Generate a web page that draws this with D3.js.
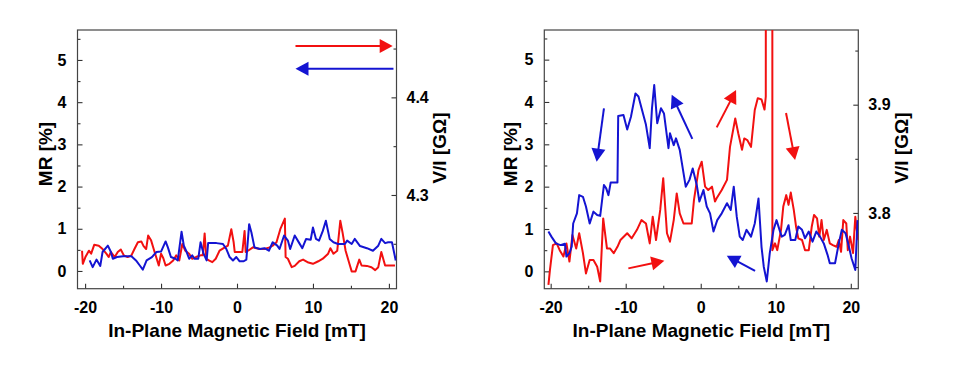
<!DOCTYPE html>
<html><head><meta charset="utf-8">
<script src="https://cdn.jsdelivr.net/npm/d3@7"></script>
<style>
body{margin:0;background:#fff}
svg{display:block}
text{font-family:"Liberation Sans",Arial,sans-serif;font-weight:bold;fill:#000}
</style>
</head><body>
<svg id="c" width="960" height="368"></svg>
<script>
// ---------- data ----------
const xTicks = [-20, -10, 0, 10, 20];
const mrTicks = [0, 1, 2, 3, 4, 5];
const leftVITicks = [4.3, 4.4];
const rightVITicks = [3.8, 3.9];
const xTitle = "In-Plane Magnetic Field [mT]";
const yTitle = "MR [%]";
const y2Title = "V/I [GΩ]";

// left panel: [field mT, MR %]
const leftRed = [[-20.4,0.48],[-20.3,0.17],[-19.96,0.33],[-19.5,0.48],[-19.2,0.41],[-18.8,0.62],[-18.2,0.6],[-17.7,0.52],[-17.2,0.41],[-16.9,0.33],[-16.6,0.45],[-16.1,0.33],[-15.7,0.45],[-15.3,0.51],[-14.9,0.37],[-14.4,0.33],[-13.9,0.37],[-13.5,0.52],[-13.05,0.68],[-12.6,0.7],[-12.3,0.59],[-11.96,0.52],[-11.7,0.84],[-11.3,0.72],[-10.9,0.48],[-10.3,0.13],[-10.0,0.41],[-9.7,0.3],[-9.4,0.13],[-8.9,0.17],[-8.4,0.25],[-8.0,0.37],[-7.6,0.25],[-7.2,0.64],[-6.8,0.48],[-6.3,0.41],[-5.9,0.29],[-5.4,0.33],[-4.8,0.37],[-4.5,0.37],[-4.26,0.89],[-4.04,0.29],[-3.7,0.25],[-3.25,0.21],[-2.8,0.29],[-2.3,0.48],[-1.6,0.56],[-1.2,0.6],[-0.75,0.99],[-0.44,0.68],[-0.3,0.45],[0.13,0.45],[0.7,0.45],[1.0,0.95],[1.14,0.45],[1.45,0.48],[2.1,0.56],[3.0,0.52],[3.6,0.52],[4.3,0.56],[4.7,0.6],[5.2,0.68],[5.7,0.99],[6.3,1.24],[6.4,0.33],[6.7,0.29],[7.2,0.09],[7.6,0.12],[8.2,0.23],[8.7,0.27],[9.4,0.2],[10.0,0.17],[10.7,0.23],[11.3,0.29],[12.0,0.41],[12.3,0.54],[12.7,0.41],[13.2,0.48],[13.6,1.19],[13.9,0.91],[14.3,0.48],[14.8,0.17],[15.1,-0.01],[15.6,-0.01],[16.1,0.27],[16.4,0.13],[17.1,0.12],[17.7,0.09],[18.2,0.02],[18.6,0.09],[19.0,0.45],[19.5,0.13],[20.1,0.13],[20.8,0.13]];
const leftBlue = [[-19.4,0.25],[-19.0,0.09],[-18.5,0.27],[-18.0,0.12],[-17.7,0.45],[-17.0,0.6],[-16.6,0.45],[-16.35,0.29],[-15.8,0.33],[-15.0,0.35],[-13.9,0.35],[-13.3,0.25],[-12.8,0.13],[-12.4,0.03],[-11.9,0.25],[-11.2,0.33],[-10.6,0.45],[-10.0,0.46],[-9.4,0.7],[-9.1,0.56],[-8.7,0.33],[-8.1,0.29],[-7.8,0.25],[-7.3,0.93],[-7.0,0.6],[-6.7,0.48],[-6.3,0.29],[-5.9,0.37],[-5.6,0.29],[-5.1,0.29],[-4.8,0.68],[-4.4,0.41],[-4.0,0.25],[-3.8,0.66],[-2.7,0.66],[-1.85,0.64],[-1.4,0.52],[-0.97,0.33],[-0.53,0.25],[-0.09,0.33],[0.35,0.23],[0.88,0.23],[1.23,0.27],[1.6,1.11],[1.9,0.91],[2.3,0.56],[3.0,0.52],[3.6,0.54],[4.2,0.48],[4.7,0.68],[5.3,0.6],[5.6,0.52],[6.2,0.84],[6.7,0.72],[7.0,0.52],[7.6,0.84],[8.2,0.66],[8.6,0.54],[9.1,0.76],[9.7,0.74],[10.0,1.03],[10.4,0.76],[10.8,0.72],[11.3,0.95],[11.7,1.19],[12.2,0.76],[12.7,0.68],[13.3,0.64],[14.2,0.64],[14.5,0.72],[15.1,0.64],[15.5,0.76],[16.2,0.59],[17.1,0.54],[17.9,0.48],[18.6,0.6],[19.0,0.76],[19.5,0.66],[19.9,0.68],[20.4,0.68],[20.9,0.25]];

// right panel: [field mT, MR %]
const rightRed = [[-20.3,-0.32],[-20.1,0.03],[-19.7,0.62],[-19.2,0.66],[-18.8,0.5],[-18.3,0.35],[-17.9,0.66],[-17.5,0.23],[-17.1,0.86],[-16.6,0.54],[-16.2,0.9],[-15.7,0.43],[-15.3,-0.05],[-14.8,0.27],[-14.3,0.27],[-13.8,0.11],[-13.4,-0.24],[-13.0,1.25],[-12.5,0.54],[-12.1,0.54],[-11.6,0.43],[-11.1,0.58],[-10.7,0.74],[-9.8,0.9],[-9.2,0.78],[-8.5,0.98],[-7.9,1.21],[-7.3,1.13],[-6.8,0.66],[-6.4,1.29],[-5.96,0.74],[-5.4,1.45],[-5.0,2.2],[-4.5,0.9],[-4.1,0.7],[-3.6,1.21],[-3.2,1.84],[-2.8,1.37],[-2.3,1.13],[-1.2,1.13],[-0.9,1.69],[-0.3,2.39],[0.13,2.59],[0.58,2.0],[1.0,1.92],[1.5,2.0],[1.9,1.65],[2.1,1.72],[2.8,1.92],[3.5,2.16],[3.9,2.94],[4.6,3.61],[5.0,3.26],[5.5,2.87],[5.8,3.14],[6.2,3.1],[6.7,2.94],[7.2,3.81],[7.6,4.09],[8.1,4.06],[8.5,3.82],[8.67,4.13],[8.68,9.0],[9.54,9.0],[9.55,0.5],[9.9,0.66],[10.2,0.5],[10.7,0.98],[11.0,1.53],[11.4,1.8],[11.7,1.57],[12.0,1.86],[12.4,1.45],[12.7,1.06],[13.0,0.78],[13.5,0.74],[13.9,0.5],[14.4,0.5],[14.8,1.06],[15.1,1.33],[15.5,1.25],[15.8,0.82],[16.1,1.21],[16.4,0.74],[16.8,0.98],[17.2,0.66],[17.6,0.62],[18.1,0.58],[18.4,0.74],[18.7,0.46],[19.0,1.21],[19.4,1.13],[19.6,0.5],[19.9,0.82],[20.3,0.43],[20.6,1.29],[20.8,0.98],[21.0,0.74]];
const rightBlue = [[-20.3,0.94],[-19.9,0.82],[-19.3,0.66],[-18.7,0.62],[-18.1,0.65],[-17.9,0.35],[-17.5,0.43],[-17.2,0.58],[-17.0,1.13],[-16.5,1.37],[-16.2,1.8],[-15.7,1.76],[-15.3,1.53],[-14.8,1.13],[-14.3,1.41],[-13.8,1.33],[-13.4,1.31],[-12.9,2.04],[-12.6,1.96],[-12.3,1.8],[-12.0,2.1],[-11.1,2.1],[-11.0,3.67],[-10.3,3.69],[-9.8,3.35],[-9.3,3.65],[-8.7,4.2],[-8.3,4.13],[-7.7,3.73],[-7.3,3.46],[-6.8,2.91],[-6.5,3.85],[-6.2,4.4],[-5.8,3.5],[-5.3,3.85],[-4.9,3.73],[-4.3,2.91],[-4.1,3.26],[-3.6,2.98],[-3.3,3.14],[-2.8,2.87],[-2.0,2.0],[-1.5,2.16],[-1.07,2.43],[-0.53,2.04],[-0.18,1.65],[0.36,1.92],[0.8,1.53],[1.24,1.37],[1.7,0.94],[2.2,1.21],[2.8,1.37],[3.5,1.61],[4.0,1.45],[4.4,2.0],[4.8,1.29],[5.2,0.82],[5.6,0.74],[6.1,0.98],[6.7,0.82],[7.2,1.13],[7.7,1.72],[8.1,0.58],[8.4,0.11],[8.8,-0.24],[9.2,0.43],[9.7,0.98],[10.1,1.21],[10.5,0.98],[10.8,0.82],[11.2,0.86],[11.7,1.09],[12.0,0.74],[12.6,0.74],[13.0,1.06],[13.5,0.98],[13.9,0.78],[14.4,0.94],[14.9,0.7],[15.4,0.94],[15.9,0.82],[16.4,0.66],[16.9,0.39],[17.2,0.19],[17.9,0.19],[18.4,0.66],[18.8,0.98],[19.3,0.9],[19.7,0.62],[20.1,0.31],[20.6,0.03],[20.9,1.21]];

// arrows: [x1, y1, x2(tip), y2(tip)] in data units (field, MR)
const leftRedArrows = [[7.7,5.33,20.5,5.33]];
const leftBlueArrows = [[20.6,4.79,7.7,4.79]];
const rightRedArrows = [[2.13,3.40,4.71,4.28],[11.37,3.74,12.57,2.63],[-9.65,0.07,-4.85,0.25]];
const rightBlueArrows = [[-12.9,3.85,-13.87,2.59],[-1.12,3.13,-3.87,4.17],[7.24,0.01,3.47,0.37]];

// ---------- drawing ----------
const RED = "#f21010", BLUE = "#1414d2";
const svg = d3.select("#c");
const TOP = 30, BOTTOM = 288.7;

const panels = [
  {x0:77.5, x1:396.5, xDom:[-21,21], yDom:[-0.42,5.71], y2Dom:[4.204,4.469], y2Ticks:leftVITicks, y2Minor:[4.25,4.35,4.45],
   red:leftRed, blue:leftBlue, redArrows:leftRedArrows, blueArrows:leftBlueArrows, yT:45, y2T:439, id:"L"},
  {x0:544.3, x1:858.3, xDom:[-20.85,21], yDom:[-0.41,5.70], y2Dom:[3.730,3.969], y2Ticks:rightVITicks, y2Minor:[3.75,3.85,3.95],
   red:rightRed, blue:rightBlue, redArrows:rightRedArrows, blueArrows:rightBlueArrows, yT:510, y2T:901.5, id:"R"}
];

panels.forEach(p => {
  const x = d3.scaleLinear().domain(p.xDom).range([p.x0, p.x1]);
  const y = d3.scaleLinear().domain(p.yDom).range([BOTTOM, TOP]);
  const y2 = d3.scaleLinear().domain(p.y2Dom).range([BOTTOM, TOP]);
  const g = svg.append("g");

  g.append("clipPath").attr("id","clip"+p.id).append("rect")
    .attr("x",p.x0).attr("y",TOP).attr("width",p.x1-p.x0).attr("height",BOTTOM-TOP);

  // axes (ticks inward)
  const fmt = d => String(d);
  const xa = g.append("g").attr("transform",`translate(0,${BOTTOM})`)
    .call(d3.axisBottom(x).tickValues(xTicks).tickFormat(fmt).tickSizeInner(-5).tickSizeOuter(0).tickPadding(13));
  const xm = g.append("g").attr("transform",`translate(0,${BOTTOM})`)
    .call(d3.axisBottom(x).tickValues([-15,-5,5,15]).tickFormat("").tickSizeInner(-3).tickSizeOuter(0));
  const ya = g.append("g").attr("transform",`translate(${p.x0},0)`)
    .call(d3.axisLeft(y).tickValues(mrTicks).tickFormat(fmt).tickSizeInner(-5).tickSizeOuter(0).tickPadding(11));
  const ym = g.append("g").attr("transform",`translate(${p.x0},0)`)
    .call(d3.axisLeft(y).tickValues([0.5,1.5,2.5,3.5,4.5,5.5]).tickFormat("").tickSizeInner(-3).tickSizeOuter(0));
  const y2a = g.append("g").attr("transform",`translate(${p.x1},0)`)
    .call(d3.axisRight(y2).tickValues(p.y2Ticks).tickFormat(d => d.toFixed(1)).tickSizeInner(-5).tickSizeOuter(0).tickPadding(10));
  const y2m = g.append("g").attr("transform",`translate(${p.x1},0)`)
    .call(d3.axisRight(y2).tickValues(p.y2Minor).tickFormat("").tickSizeInner(-3).tickSizeOuter(0));
  [xa,xm,ya,ym,y2a,y2m].forEach(a => {
    a.select(".domain").remove();
    a.selectAll("line").attr("stroke","#333").attr("stroke-width",1.1);
    a.selectAll("text").attr("font-size",16).attr("font-family",'"Liberation Sans",Arial,sans-serif').attr("font-weight","bold").attr("fill","#000");
  });

  // frame
  g.append("rect").attr("x",p.x0).attr("y",TOP).attr("width",p.x1-p.x0).attr("height",BOTTOM-TOP)
    .attr("fill","none").attr("stroke","#444").attr("stroke-width",1.2);

  // lines
  const line = d3.line().x(d=>x(d[0])).y(d=>y(d[1]));
  const pg = g.append("g").attr("clip-path",`url(#clip${p.id})`);
  pg.append("path").datum(p.red).attr("d",line).attr("fill","none").attr("stroke",RED).attr("stroke-width",2).attr("stroke-linejoin","round");
  pg.append("path").datum(p.blue).attr("d",line).attr("fill","none").attr("stroke",BLUE).attr("stroke-width",2).attr("stroke-linejoin","round");

  // arrows
  function arrow(a, color){
    const X1=x(a[0]),Y1=y(a[1]),X2=x(a[2]),Y2=y(a[3]);
    const dx=X2-X1, dy=Y2-Y1, L=Math.hypot(dx,dy), ux=dx/L, uy=dy/L;
    const hl=13, hw=7;
    const bx=X2-ux*hl, by=Y2-uy*hl;
    g.append("line").attr("x1",X1).attr("y1",Y1).attr("x2",bx+ux*2).attr("y2",by+uy*2)
      .attr("stroke",color).attr("stroke-width",2);
    g.append("path").attr("d",`M${X2},${Y2}L${bx-uy*hw},${by+ux*hw}L${bx+uy*hw},${by-ux*hw}Z`).attr("fill",color);
  }
  p.redArrows.forEach(a=>arrow(a,RED));
  p.blueArrows.forEach(a=>arrow(a,BLUE));

  // titles
  g.append("text").attr("x",(p.x0+p.x1)/2).attr("y",336.5).attr("text-anchor","middle")
    .attr("font-size",19).text(xTitle);
  g.append("text").attr("transform",`translate(${p.yT},154) rotate(-90)`).attr("text-anchor","middle")
    .attr("dominant-baseline","central").attr("font-size",19).text(yTitle);
  g.append("text").attr("transform",`translate(${p.y2T},148) rotate(-90)`).attr("text-anchor","middle")
    .attr("dominant-baseline","central").attr("font-size",19).text(y2Title);
});
</script>
</body></html>
